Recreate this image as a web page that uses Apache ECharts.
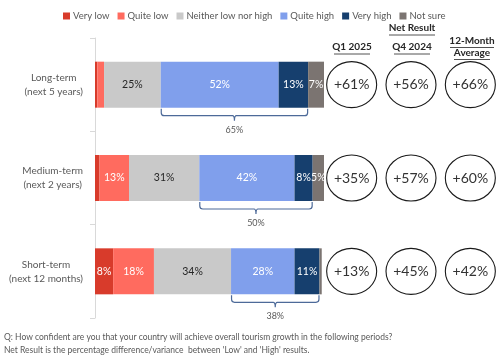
<!DOCTYPE html>
<html><head><meta charset="utf-8">
<script src="https://cdn.jsdelivr.net/npm/echarts@6/dist/echarts.min.js"></script>
<style>html,body{margin:0;padding:0;background:#fff;}#c{width:500px;height:356px;}</style>
</head><body><div id="c"></div>
<script>
var categories = ['Long-term\n(next 5 years)', 'Medium-term\n(next 2 years)', 'Short-term\n(next 12 months)'];
var seriesNames = ['Very low', 'Quite low', 'Neither low nor high', 'Quite high', 'Very high', 'Not sure'];
var veryLow = [1, 2, 8];
var quiteLow = [3, 13, 18];
var neither = [25, 31, 34];
var quiteHigh = [52, 42, 28];
var veryHigh = [13, 8, 11];
var notSure = [7, 5, 1];
var highTotals = [65, 50, 38];
var netColumns = ['Q1 2025', 'Q4 2024', '12-Month\nAverage'];
var netQ1 = [61, 35, 13];
var netQ4 = [56, 57, 45];
var net12 = [66, 60, 42];

var FONT = 'Lato, sans-serif';
var colors = ['#d83b2b', '#ff6b5f', '#c9c9c9', '#809fec', '#163f6e', '#7b7471'];
var labelColors = ['#ffffff', '#ffffff', '#262626', '#ffffff', '#ffffff', '#ffffff'];
var values = [veryLow, quiteLow, neither, quiteHigh, veryHigh, notSure];

var chart = echarts.init(document.getElementById('c'), null, {renderer: 'canvas'});

var barSeries = values.map(function (arr, i) {
  return {
    name: seriesNames[i], type: 'bar', stack: 'a', xAxisIndex: 0, yAxisIndex: 0,
    barWidth: 46, data: arr, itemStyle: {color: colors[i]},
    label: {show: true, position: 'inside', fontFamily: FONT, fontSize: 10.5, color: labelColors[i],
      formatter: function (p) { return p.value >= 5 ? p.value + '%' : ''; }}
  };
});

var bracketData = categories.map(function (c, i) {
  var start = veryLow[i] + quiteLow[i] + neither[i];
  return [start, start + quiteHigh[i] + veryHigh[i], i, highTotals[i]];
});

var netData = [];
[netQ1, netQ4, net12].forEach(function (arr, col) {
  arr.forEach(function (v, row) { netData.push([col + 0.5, row, v]); });
});

var option = {
  animation: false,
  legend: {
    top: 6, left: 58, width: 440, itemWidth: 7, itemHeight: 7, itemGap: 8, icon: 'rect',
    textStyle: {fontFamily: FONT, fontSize: 9.5, color: '#595959', padding: [0, 0, 0, -2]},
    data: seriesNames
  },
  grid: [
    {left: 95, top: 38, width: 229, height: 280},
    {left: 322, top: 38, width: 180, height: 280}
  ],
  xAxis: [
    {gridIndex: 0, type: 'value', min: 0, max: 101, show: false},
    {gridIndex: 1, type: 'value', min: 0, max: 3, show: false}
  ],
  yAxis: [
    {gridIndex: 0, type: 'category', inverse: true, data: categories,
      axisLine: {show: true, lineStyle: {color: '#d9d9d9'}},
      axisTick: {show: true, length: 5, lineStyle: {color: '#d9d9d9'}},
      axisLabel: {align: 'right', margin: 12,
        formatter: function (v) { return v.split('\n').map(function (s) { return '{c|' + s + '}'; }).join('\n'); },
        rich: {c: {fontFamily: FONT, fontSize: 10, color: '#595959', align: 'center', lineHeight: 14}}
      }
    },
    {gridIndex: 1, type: 'category', inverse: true, data: categories, show: false}
  ],
  series: barSeries.concat([
    {
      type: 'custom', xAxisIndex: 0, yAxisIndex: 0, data: bracketData, silent: true, z: 5,
      renderItem: function (params, api) {
        var p1 = api.coord([api.value(0), api.value(2)]);
        var p2 = api.coord([api.value(1), api.value(2)]);
        var y0 = p1[1] + 24, y1 = y0 + 7, r = 3;
        var x1 = p1[0] + 0.5, x2 = p2[0] - 0.5, xm = (x1 + x2) / 2;
        var d = 'M' + x1 + ' ' + y0 + ' L' + x1 + ' ' + (y1 - r) + ' Q' + x1 + ' ' + y1 + ' ' + (x1 + r) + ' ' + y1 +
          ' L' + (xm - 2) + ' ' + y1 + ' Q' + xm + ' ' + y1 + ' ' + xm + ' ' + (y1 + 5) +
          ' Q' + xm + ' ' + y1 + ' ' + (xm + 2) + ' ' + y1 +
          ' L' + (x2 - r) + ' ' + y1 + ' Q' + x2 + ' ' + y1 + ' ' + x2 + ' ' + (y1 - r) + ' L' + x2 + ' ' + y0;
        return {type: 'group', children: [
          {type: 'path', shape: {pathData: d}, style: {fill: 'none', stroke: '#4d6a99', lineWidth: 1.2}},
          {type: 'text', x: xm, y: y1 + 14, style: {text: api.value(3) + '%', fontFamily: FONT, fontSize: 9,
            fill: '#595959', align: 'center', verticalAlign: 'middle'}}
        ]};
      }
    },
    {
      type: 'custom', xAxisIndex: 1, yAxisIndex: 1, data: netData, silent: true,
      renderItem: function (params, api) {
        var p = api.coord([api.value(0), api.value(1)]);
        return {type: 'group', children: [
          {type: 'ellipse', shape: {cx: p[0], cy: p[1], rx: 25, ry: 23},
            style: {fill: '#fff', stroke: '#1a1a1a', lineWidth: 1.1}},
          {type: 'text', x: p[0], y: p[1], style: {text: '+' + api.value(2) + '%', fontFamily: FONT,
            fontSize: 14, fill: '#333', align: 'center', verticalAlign: 'middle'}}
        ]};
      }
    }
  ]),
  graphic: [
    {type: 'text', left: 4, top: 331, style: {text: 'Q: How confident are you that your country will achieve overall tourism growth in the following periods?\nNet Result is the percentage difference/variance  between \'Low\' and \'High\' results.',
      fontFamily: FONT, fontSize: 8.5, fill: '#595959', lineHeight: 13}},
    {type: 'text', x: 412, y: 28, style: {text: 'Net Result', fontFamily: FONT, fontSize: 10, fontWeight: 'bold', fill: '#262626', align: 'center', verticalAlign: 'middle'}},
    {type: 'line', shape: {x1: 389, y1: 35, x2: 435, y2: 35}, style: {stroke: '#262626', lineWidth: 0.8}},
    {type: 'text', x: 352, y: 47, style: {text: 'Q1 2025', fontFamily: FONT, fontSize: 10, fontWeight: 'bold', fill: '#262626', align: 'center', verticalAlign: 'middle'}},
    {type: 'line', shape: {x1: 334, y1: 54, x2: 370, y2: 54}, style: {stroke: '#262626', lineWidth: 0.8}},
    {type: 'text', x: 412, y: 47, style: {text: 'Q4 2024', fontFamily: FONT, fontSize: 10, fontWeight: 'bold', fill: '#262626', align: 'center', verticalAlign: 'middle'}},
    {type: 'line', shape: {x1: 394, y1: 54, x2: 430, y2: 54}, style: {stroke: '#262626', lineWidth: 0.8}},
    {type: 'text', x: 472, y: 41, style: {text: '12-Month', fontFamily: FONT, fontSize: 10, fontWeight: 'bold', fill: '#262626', align: 'center', verticalAlign: 'middle'}},
    {type: 'line', shape: {x1: 450, y1: 47.5, x2: 494, y2: 47.5}, style: {stroke: '#262626', lineWidth: 0.8}},
    {type: 'text', x: 472, y: 53, style: {text: 'Average', fontFamily: FONT, fontSize: 10, fontWeight: 'bold', fill: '#262626', align: 'center', verticalAlign: 'middle'}},
    {type: 'line', shape: {x1: 454, y1: 59.5, x2: 490, y2: 59.5}, style: {stroke: '#262626', lineWidth: 0.8}}
  ]
};
chart.setOption(option);
</script>
</body></html>
